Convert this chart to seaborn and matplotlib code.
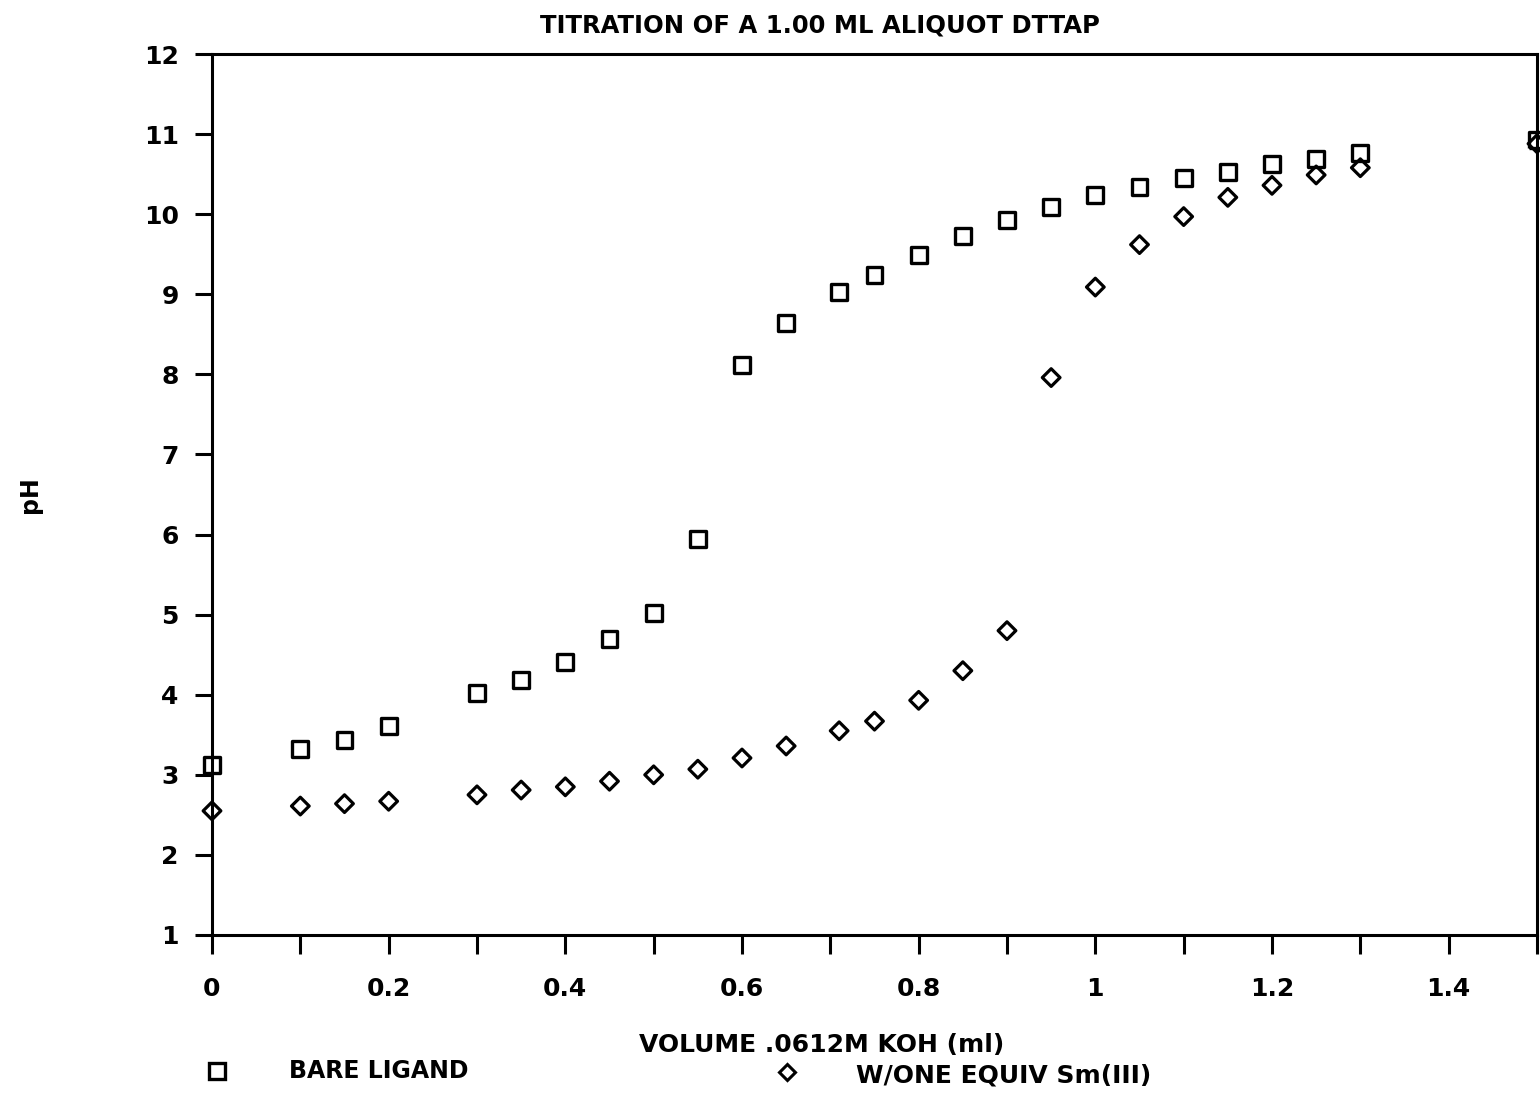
import matplotlib
matplotlib.use("Agg")
import matplotlib.pyplot as plt
import seaborn as sns
import pandas as pd
from matplotlib.lines import Line2D

volume = [0, 0.1, 0.15, 0.2, 0.3, 0.35, 0.4, 0.45, 0.5, 0.55, 0.6, 0.65, 0.71,
          0.75, 0.8, 0.85, 0.9, 0.95, 1.0, 1.05, 1.1, 1.15, 1.2, 1.25, 1.3, 1.5]
ph_bare = [3.12, 3.32, 3.44, 3.61, 4.02, 4.18, 4.41, 4.70, 5.02, 5.95, 8.12, 8.64, 9.03,
           9.24, 9.49, 9.73, 9.93, 10.09, 10.24, 10.34, 10.45, 10.53, 10.63, 10.69, 10.76, 10.93]
ph_sm = [2.55, 2.61, 2.64, 2.67, 2.75, 2.81, 2.85, 2.92, 3.00, 3.07, 3.21, 3.36, 3.55,
         3.67, 3.93, 4.30, 4.80, 7.96, 9.09, 9.62, 9.97, 10.21, 10.36, 10.49, 10.58, 10.88]
x_major = [0, 0.2, 0.4, 0.6, 0.8, 1.0, 1.2, 1.4]
x_major_labels = ["0", "0.2", "0.4", "0.6", "0.8", "1", "1.2", "1.4"]
x_minor = [0.1, 0.3, 0.5, 0.7, 0.9, 1.1, 1.3, 1.5]
y_ticks = list(range(1, 13))

title = "TITRATION OF A 1.00 ML ALIQUOT DTTAP"
xlabel = "VOLUME .0612M KOH (ml)"
ylabel = "pH"
legend_labels = ["BARE LIGAND", "W/ONE EQUIV Sm(III)"]

sns.set_theme(style="white")
plt.rcParams['font.family'] = ['DejaVu Sans']

fig = plt.figure(figsize=(15.4, 10.98), dpi=100)
ax = fig.add_axes([212/1540, 1 - 935/1098, (1537-212)/1540, (935-54)/1098])

df_bare = pd.DataFrame({"v": volume, "ph": ph_bare})
df_sm = pd.DataFrame({"v": volume, "ph": ph_sm})

sns.scatterplot(data=df_bare, x="v", y="ph", ax=ax, marker="s", s=11.5**2,
                facecolors="none", edgecolor="black", linewidth=2.4, clip_on=False, zorder=3)
sns.scatterplot(data=df_sm, x="v", y="ph", ax=ax, marker="D", s=9**2,
                facecolors="none", edgecolor="black", linewidth=2.3, clip_on=False, zorder=3)

ax.set_xlim(0, 1.5)
ax.set_ylim(1, 12)
ax.set_xticks(x_major)
ax.set_xticklabels(x_major_labels)
ax.set_xticks(x_minor, minor=True)
ax.set_yticks(y_ticks)
ax.set_yticklabels([str(v) for v in y_ticks])
ax.set_xlabel("")
ax.set_ylabel("")

for sp in ax.spines.values():
    sp.set_visible(True)
    sp.set_color("black")
    sp.set_linewidth(2.2)

ax.tick_params(axis="x", which="both", direction="out", length=14, width=2.2,
               color="black", bottom=True, pad=16)
ax.tick_params(axis="y", which="both", direction="out", length=12, width=2.2,
               color="black", left=True, pad=12)
for lab in ax.get_xticklabels() + ax.get_yticklabels():
    lab.set_fontsize(18)
    lab.set_fontweight("bold")
    lab.set_color("black")

fig.text(820/1540, 1 - 25/1098, title, ha="center", va="center",
         fontsize=17.5, fontweight="bold", color="black")
fig.text(822/1540, 1 - 1045/1098, xlabel, ha="center", va="center",
         fontsize=18, fontweight="bold", color="black")
fig.text(30/1540, 1 - 495/1098, ylabel, ha="center", va="center", rotation=90,
         fontsize=17, fontweight="bold", color="black")

fig.add_artist(Line2D([217/1540], [1 - 1071/1098], transform=fig.transFigure,
                      marker="s", markersize=11, markerfacecolor="none",
                      markeredgecolor="black", markeredgewidth=2.4, linestyle=""))
fig.text(289/1540, 1 - 1071/1098, legend_labels[0], ha="left", va="center",
         fontsize=17, fontweight="bold", color="black")
fig.add_artist(Line2D([787/1540], [1 - 1072/1098], transform=fig.transFigure,
                      marker="D", markersize=8.5, markerfacecolor="none",
                      markeredgecolor="black", markeredgewidth=2.2, linestyle=""))
fig.text(856/1540, 1 - 1076/1098, legend_labels[1], ha="left", va="center",
         fontsize=18, fontweight="bold", color="black")

fig.savefig("out.png", dpi=100)
